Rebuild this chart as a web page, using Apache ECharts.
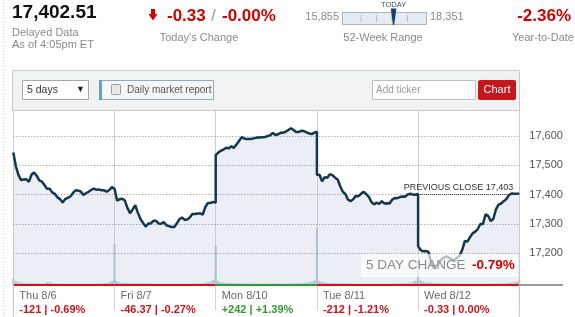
<!DOCTYPE html>
<html><head><meta charset="utf-8">
<script src="https://cdn.jsdelivr.net/npm/echarts@6/dist/echarts.min.js"></script>
<style>html,body{margin:0;padding:0;background:#fff;}#chart{width:575px;height:317px;}</style>
</head><body><div id="chart"></div>
<script>
// ---------- data ----------
const days = ['Thu 8/6', 'Fri 8/7', 'Mon 8/10', 'Tue 8/11', 'Wed 8/12'];
const dayChanges = ['-121 | -0.69%', '-46.37 | -0.27%', '+242 | +1.39%', '-212 | -1.21%', '-0.33 | 0.00%'];
const daySigns = [-1, -1, 1, -1, -1];

// prices every 10 minutes, 9:30 to 16:00 (40 points per day)
const thu = [17544,17497,17467,17450,17452,17453,17444,17468,17476,17465,17449,17445,17433,17420,17420,17408,17403,17391,17385,17373,17385,17389,17394,17406,17415,17414,17411,17399,17405,17410,17416,17421,17417,17418,17415,17415,17410,17416,17426,17420];
const fri = [17420,17380,17385,17386,17380,17354,17337,17350,17364,17339,17317,17304,17291,17302,17302,17311,17311,17302,17301,17307,17296,17293,17290,17290,17302,17316,17322,17315,17315,17322,17334,17334,17336,17336,17332,17358,17372,17372,17375,17373];
const mon = [17535,17544,17550,17554,17560,17558,17565,17560,17571,17583,17596,17592,17590,17590,17591,17593,17595,17595,17596,17597,17600,17603,17611,17604,17606,17611,17611,17615,17621,17627,17621,17614,17614,17618,17617,17613,17609,17607,17612,17615];
const tue = [17468,17468,17446,17460,17458,17470,17467,17458,17452,17428,17410,17402,17383,17378,17385,17396,17395,17403,17410,17402,17393,17375,17367,17373,17369,17378,17370,17371,17370,17383,17389,17388,17392,17394,17393,17401,17403,17401,17400,17403];
const wed = [17225,17211,17207,17208,17205,17170,17148,17158,17165,17180,17186,17190,17184,17180,17176,17185,17192,17212,17242,17240,17255,17268,17274,17283,17300,17300,17333,17328,17310,17318,17350,17366,17370,17378,17385,17399,17404,17403,17403,17403];

// relative volume (0-100 of plot height)
const volThu = [3.5,2.2,1.6,1.4,1.2,1.2,1.0,1.0,1.0,1.0,0.9,0.9,0.9,1.6,1.8,1.0,0.9,0.9,0.9,0.8,0.8,0.8,0.8,0.8,0.8,0.8,0.8,0.8,0.8,0.8,0.8,0.8,0.8,0.9,0.9,1.0,1.2,1.6,2.2,23.4];
const volFri = [3.0,2.0,1.6,1.4,1.2,1.2,1.0,1.0,1.0,1.0,0.9,0.9,0.9,0.9,0.9,0.8,0.8,0.8,0.8,0.8,0.8,0.8,0.8,0.8,0.8,0.8,0.8,0.8,0.8,0.8,0.9,0.9,0.9,1.0,1.0,1.2,1.6,2.0,2.8,22.3];
const volMon = [3.4,2.2,1.6,1.4,1.2,1.1,1.0,1.0,1.0,0.9,0.9,0.9,0.9,0.9,0.8,0.8,0.8,0.8,0.8,0.8,0.8,0.8,0.8,0.8,0.8,0.8,0.8,0.8,0.9,0.9,0.9,0.9,1.0,1.0,1.2,1.4,1.6,2.0,2.6,32.6];
const volTue = [3.6,2.4,1.8,1.5,1.3,1.2,1.1,1.0,1.0,1.0,0.9,0.9,0.9,0.9,0.9,0.8,0.8,0.8,0.8,0.8,0.8,0.8,0.8,0.8,0.8,0.8,0.8,0.8,0.8,0.9,0.9,0.9,0.9,1.0,1.0,1.2,1.4,1.8,2.4,15.4];
const volWed = [4.0,2.6,2.0,1.6,1.4,1.3,1.2,1.1,1.0,1.0,1.0,0.9,0.9,0.9,0.9,0.9,0.8,0.8,0.8,0.8,0.8,0.8,0.8,0.8,0.8,0.8,0.8,0.8,0.8,0.9,0.9,0.9,0.9,1.0,1.0,1.2,1.4,1.6,2.0,3.0];

const yTicks = [17200, 17300, 17400, 17500, 17600];
const yTickLabels = ['17,200', '17,300', '17,400', '17,500', '17,600'];
const previousClose = 17403;
const previousCloseLabel = 'PREVIOUS CLOSE 17,403';
const lastPrice = '17,402.51';
const todayChange = '-0.33';
const todayChangePct = '-0.00%';
const weekLow = 15855, weekHigh = 18351, weekLowLabel = '15,855', weekHighLabel = '18,351';
const ytd = '-2.36%';
const fiveDayChange = '-0.79%';

// ---------- setup ----------
const MIN_PER_DAY = 390, STEP = 10;
const Y_MIN = 17092, Y_MAX = 17689;
const RED = '#d0121b', GREEN = '#2f9c2f';
const FONT = '"Liberation Sans", Arial, sans-serif';

const dayPrices = [thu, fri, mon, tue, wed];
const dayVols = [volThu, volFri, volMon, volTue, volWed];
const priceData = [], volData = [];
dayPrices.forEach((arr, d) => arr.forEach((v, i) => priceData.push([d * MIN_PER_DAY + i * STEP, v])));
dayVols.forEach((arr, d) => arr.forEach((v, i) => volData.push([d * MIN_PER_DAY + i * STEP, v])));

const chart = echarts.init(document.getElementById('chart'), null, {renderer: 'canvas'});

function txt(x, y, text, size, color, opts) {
  opts = opts || {};
  const align = opts.align || 'left';
  return {type: 'text', x: x, y: y, z: 100, silent: true,
    style: {text: text, fill: color, font: (opts.weight || 'normal') + ' ' + size + 'px ' + FONT,
      textAlign: align, align: align, textVerticalAlign: 'middle', verticalAlign: 'middle'}};
}
function line(x1, y1, x2, y2, color, w, dash) {
  return {type: 'line', z: 100, silent: true, shape: {x1, y1, x2, y2}, style: {stroke: color, lineWidth: w || 1, lineDash: dash || null}};
}
function rect(x, y, w, h, fill, stroke, r) {
  return {type: 'rect', z: 100, silent: true, shape: {x, y, width: w, height: h, r: r || 0}, style: {fill: fill, stroke: stroke || null, lineWidth: 1}};
}

const option = {
  animation: false,
  backgroundColor: '#fff',
  grid: {left: 13.3, right: 55.7, top: 110, bottom: 32, containLabel: false},
  xAxis: {
    type: 'value', min: 0, max: MIN_PER_DAY * 5, interval: MIN_PER_DAY,
    axisLine: {show: false},
    axisLabel: {show: false},
    axisTick: {show: true, length: 25, lineStyle: {color: '#cfd6dd', width: 1}},
    splitLine: {show: true, lineStyle: {color: '#c6cfd8', width: 1}}
  },
  yAxis: [
    {type: 'value', min: Y_MIN, max: Y_MAX, show: false, splitLine: {show: false}},
    {type: 'value', min: 0, max: 100, show: false, splitLine: {show: false}}
  ],
  series: [
    {
      name: 'area', type: 'line', data: priceData, showSymbol: false, silent: true, z: 1,
      lineStyle: {width: 0, opacity: 0},
      areaStyle: {color: 'rgba(188,202,220,0.42)', origin: 'start'},
      markLine: {
        silent: true, symbol: ['none', 'none'], z: 3, animation: false,
        lineStyle: {color: '#8c8c8c', type: [1, 2], width: 1},
        label: {show: true, position: 'end', distance: 10, color: '#555', fontSize: 11, fontFamily: FONT},
        data: yTicks.map((v, i) => ({yAxis: v, label: {formatter: yTickLabels[i]}}))
      }
    },
    {
      name: 'volume', type: 'bar', yAxisIndex: 1, data: volData, barWidth: 2, silent: true, z: 2,
      itemStyle: {color: '#abbfd3'},
      markLine: {
        silent: true, symbol: ['none', 'none'], z: 6, animation: false,
        label: {show: false},
        data: daySigns.map((s, d) => [
          {coord: [d * MIN_PER_DAY, 0], lineStyle: {color: s > 0 ? GREEN : RED, width: 2, type: 'solid'}},
          {coord: [(d + 1) * MIN_PER_DAY, 0]}
        ])
      }
    },
    {
      name: 'price', type: 'line', data: priceData, showSymbol: false, silent: true, z: 4,
      lineStyle: {color: '#16364f', width: 2.5},
      markLine: {
        silent: true, symbol: ['none', 'none'], z: 5, animation: false,
        lineStyle: {color: '#444', type: [1, 1], width: 1},
        label: {show: true, position: 'insideEndTop', formatter: previousCloseLabel, color: '#333', fontSize: 9, fontFamily: FONT, distance: [6, 2]},
        data: [[{coord: [4 * MIN_PER_DAY, previousClose]}, {coord: [5 * MIN_PER_DAY, previousClose]}]]
      }
    }
  ]
};
chart.setOption(option);

// ---------- decorations ----------
const g = [];
g.push(line(3.5, 0, 3.5, 317, '#d6d6d6', 1, [1, 2]));
// header
g.push(txt(12, 12.5, lastPrice, 19, '#111', {weight: 'bold'}));
g.push(txt(12, 32.5, 'Delayed Data', 11, '#8a8a8a'));
g.push(txt(12, 44.5, 'As of 4:05pm ET', 11, '#8a8a8a'));
g.push({type: 'polygon', z: 100, silent: true, shape: {points: [[151, 9], [155, 9], [155, 14], [157.5, 14], [153, 20.5], [148.5, 14], [151, 14]]}, style: {fill: '#d40000'}});
g.push(txt(167, 16, todayChange, 17, '#d40000', {weight: 'bold'}));
g.push(txt(211, 16, '/', 17, '#9a9a9a'));
g.push(txt(222, 16, todayChangePct, 17, '#d40000', {weight: 'bold'}));
g.push(txt(199, 37.5, "Today's Change", 11, '#8a8a8a', {align: 'center'}));
// 52-week range
const bx = 342.5, bw = 84;
g.push(txt(339, 17, weekLowLabel, 11, '#8a8a8a', {align: 'right'}));
g.push(rect(bx, 12.5, bw, 12, '#e4ebf1', '#aab4be'));
[361, 376.5, 392, 407.5].forEach(x => g.push(line(x, 15, x, 22, '#b9c3cd', 1)));
const nx = bx + bw * (17402.51 - weekLow) / (weekHigh - weekLow) - 1;
g.push({type: 'polygon', z: 101, silent: true, shape: {points: [[nx - 2.8, 8.5], [nx + 2.8, 8.5], [nx + 0.6, 25], [nx - 0.6, 25]]}, style: {fill: '#1b3e66'}});
g.push(txt(nx, 4.5, 'TODAY', 7.5, '#2f5278', {align: 'center'}));
g.push(txt(430, 17, weekHighLabel, 11, '#8a8a8a'));
g.push(txt(383, 37.5, '52-Week Range', 11, '#8a8a8a', {align: 'center'}));
g.push(txt(571, 16, ytd, 17, '#d40000', {weight: 'bold', align: 'right'}));
g.push(txt(543, 37.5, 'Year-to-Date', 11, '#8a8a8a', {align: 'center'}));
// toolbar
g.push(rect(12.5, 70.5, 507, 40, '#f1f3f3', '#c9c9c9'));
g.push(rect(22.5, 80.5, 66, 19, '#fff', '#a8a8a8'));
g.push(txt(27, 90.5, '5 days', 10.5, '#333'));
g.push(txt(80.5, 90, '\u25BC', 9, '#222', {align: 'center'}));
g.push(rect(99.5, 80.5, 114, 19, '#f4f6f7', '#8fa9bd'));
g.push(rect(99, 80, 3, 20, '#6a9fc6'));
g.push(rect(111.5, 84.5, 9, 10, '#e9e9e9', '#9a9a9a', 1));
g.push(txt(127, 90.5, 'Daily market report', 10, '#555'));
g.push(rect(372.5, 80.5, 103, 19, '#fff', '#bdbdbd'));
g.push(txt(376, 90.5, 'Add ticker', 10, '#9a9a9a'));
g.push(rect(478, 80, 38, 20, '#c5161d', null, 2));
g.push(txt(497, 90, 'Chart', 11, '#fff', {align: 'center'}));
// frame lines in label area
g.push(line(13.3, 284, 13.3, 317, '#c8c8c8', 1));
g.push(line(519.3, 270, 519.3, 317, '#c8c8c8', 1));
g.push(line(519.3, 285, 563, 285, '#9a9a9a', 2));
// 5 day change box
g.push(rect(361, 254, 157, 23, 'rgba(255,255,255,0.68)'));
g.push(txt(366, 265.5, '5 DAY CHANGE', 13.5, '#8a8a8a'));
g.push(txt(472, 265.5, fiveDayChange, 13.5, '#d40000', {weight: 'bold'}));
// day labels under the axis
days.forEach((dname, d) => {
  const px = chart.convertToPixel({gridIndex: 0}, [d * MIN_PER_DAY, Y_MIN]);
  g.push(txt(px[0] + 6, 296, dname, 11, '#6a6a6a'));
  g.push(txt(px[0] + 6, 310, dayChanges[d], 11, daySigns[d] > 0 ? GREEN : RED, {weight: 'bold'}));
});
chart.setOption({graphic: {elements: g}});
</script>
</body></html>
